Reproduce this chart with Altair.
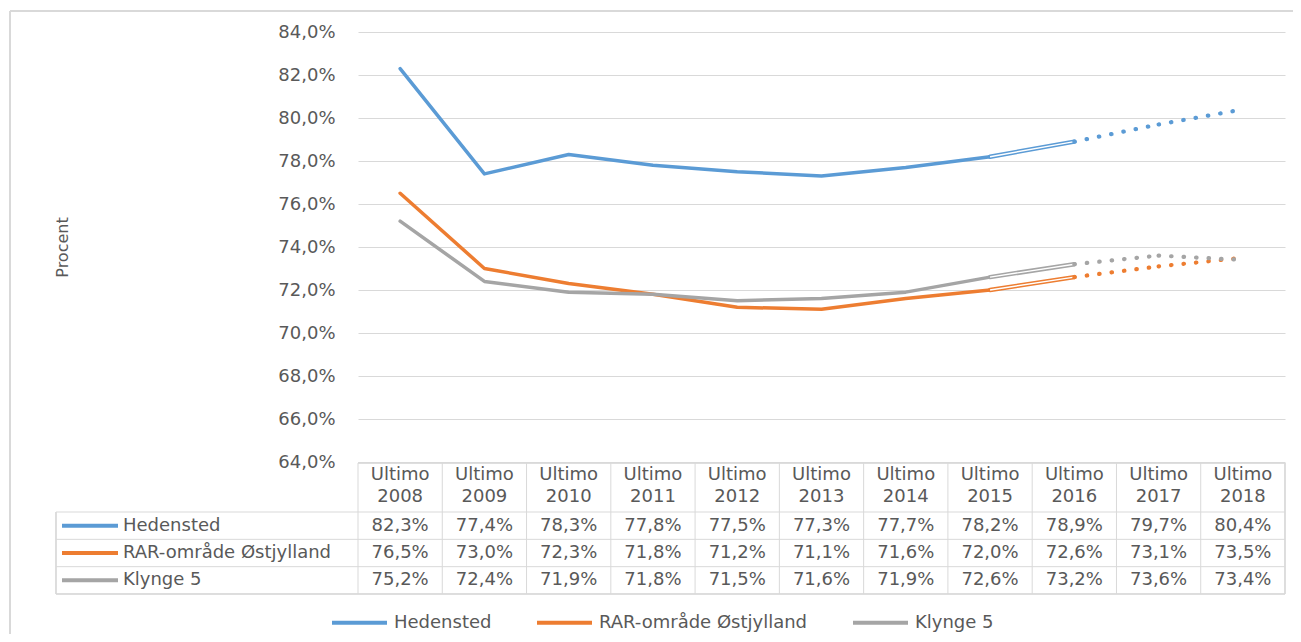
import altair as alt
import pandas as pd

# ---------------- data ----------------
years = ["2008", "2009", "2010", "2011", "2012", "2013", "2014", "2015", "2016", "2017", "2018"]
series = ["Hedensted", "RAR-område Østjylland", "Klynge 5"]
hedensted = [82.3, 77.4, 78.3, 77.8, 77.5, 77.3, 77.7, 78.2, 78.9, 79.7, 80.4]
rar = [76.5, 73.0, 72.3, 71.8, 71.2, 71.1, 71.6, 72.0, 72.6, 73.1, 73.5]
klynge = [75.2, 72.4, 71.9, 71.8, 71.5, 71.6, 71.9, 72.6, 73.2, 73.6, 73.4]
colors = ["#5B9BD5", "#ED7D31", "#A5A5A5"]
y_ticks = [64, 66, 68, 70, 72, 74, 76, 78, 80, 82, 84]

rows = []
for s, vals in zip(series, [hedensted, rar, klynge]):
    for i, (yr, v) in enumerate(zip(years, vals)):
        rows.append(dict(series=s, year=yr, idx=i, value=v,
                         label=f"{v:.1f}".replace(".", ",") + "%"))
df = pd.DataFrame(rows)
dotted = pd.concat([
    df[df.idx.isin([8, 9])].assign(seg="a"),
    df[df.idx.isin([9, 10])].assign(seg="b"),
])
ydf = pd.DataFrame({"year": years})
sdf = pd.DataFrame({"series": series})

FONT = "DejaVu Sans"
GREY = "#595959"
GRID = "#D9D9D9"

xscale = alt.Scale(type="band", domain=years, paddingInner=0, paddingOuter=0)
xenc = alt.X("year:O", scale=xscale, axis=None, bandPosition=0.5)
yscale = alt.Scale(domain=[64, 84], nice=False, zero=False)
yaxis = alt.Axis(
    values=y_ticks, grid=True, gridColor=GRID, gridWidth=1, domain=False, ticks=False,
    labelPadding=23, labelFont=FONT, labelFontSize=18, labelColor=GREY,
    labelExpr="replace(format(datum.value, '.1f'), '.', ',') + '%'",
    title="Procent", titleFont=FONT, titleFontSize=16, titleFontWeight="normal",
    titleColor=GREY, titleX=-296, titleY=215, titleAngle=270,
    titleBaseline="middle", titleAlign="center",
)
ynoax = alt.Y("value:Q", scale=yscale, axis=None)

color = alt.Color(
    "series:N",
    scale=alt.Scale(domain=series, range=colors),
    legend=alt.Legend(
        title=None, orient="none", legendX=-28, legendY=561, direction="horizontal",
        symbolType="stroke", symbolSize=3025, symbolStrokeWidth=4,
        labelFont=FONT, labelFontSize=18, labelColor=GREY, labelLimit=400,
        labelOffset=5, columnPadding=37, padding=0,
    ),
)

rowscale = alt.Scale(type="band", domain=series, range=[480, 562], paddingInner=0, paddingOuter=0)
yrow = alt.Y("series:N", scale=rowscale, axis=None, bandPosition=0.5)

# ---------------- frame & table borders ----------------
frame_top = alt.Chart(sdf).mark_rule(color=GRID, strokeWidth=2).encode(
    x=alt.value(-348), x2=alt.value(943), y=alt.value(-21))
frame_left = alt.Chart(sdf).mark_rule(color=GRID, strokeWidth=2).encode(
    x=alt.value(-348), y=alt.value(-21), y2=alt.value(640))

vlines = alt.Chart(ydf).mark_rule(color=GRID, strokeWidth=1).encode(
    x=alt.X("year:O", scale=xscale, axis=None, bandPosition=0),
    y=alt.value(431), y2=alt.value(562))
vright = alt.Chart(sdf).mark_rule(color=GRID, strokeWidth=1).encode(
    x=alt.value(927), y=alt.value(431), y2=alt.value(562))
vleft = alt.Chart(sdf).mark_rule(color=GRID, strokeWidth=1).encode(
    x=alt.value(-302), y=alt.value(480), y2=alt.value(562))
hlines = alt.Chart(sdf).mark_rule(color=GRID, strokeWidth=1).encode(
    y=alt.Y("series:N", scale=rowscale, axis=None, bandPosition=0),
    x=alt.value(-302), x2=alt.value(927))
hbottom = alt.Chart(sdf).mark_rule(color=GRID, strokeWidth=1).encode(
    y=alt.value(562), x=alt.value(-302), x2=alt.value(927))
htop = alt.Chart(sdf).mark_rule(color=GRID, strokeWidth=1).encode(
    y=alt.value(431), x=alt.value(0), x2=alt.value(927))

# ---------------- lines ----------------
solid = alt.Chart(df).transform_filter("datum.idx <= 7").mark_line(
    strokeWidth=3.5, strokeJoin="round", strokeCap="round").encode(
    x=xenc, y=alt.Y("value:Q", scale=yscale, axis=yaxis), color=color)
double_a = alt.Chart(df).transform_filter("datum.idx >= 7 && datum.idx <= 8").mark_line(
    strokeWidth=4.5, strokeCap="round").encode(x=xenc, y=ynoax, color=color)
double_b = alt.Chart(df).transform_filter("datum.idx >= 7 && datum.idx <= 8").mark_line(
    strokeWidth=1.4, color="white").encode(x=xenc, y=ynoax, detail="series:N")
dots = alt.Chart(dotted).mark_line(
    strokeWidth=4.2, strokeDash=[0.5, 12], strokeCap="round").encode(
    x=xenc, y=ynoax, color=color, detail="seg:N")

# ---------------- table text ----------------
txt = dict(font=FONT, fontSize=18, color=GREY, baseline="middle")
hdr1 = alt.Chart(ydf).mark_text(text="Ultimo", **txt).encode(x=xenc, y=alt.value(443))
hdr2 = alt.Chart(ydf).mark_text(**txt).encode(x=xenc, y=alt.value(465), text="year:N")
vals = alt.Chart(df).mark_text(**txt).encode(x=xenc, y=yrow, text="label:N")
rowlab = alt.Chart(sdf).mark_text(align="left", **txt).encode(
    x=alt.value(-235), y=yrow, text="series:N")
rowsw = alt.Chart(sdf).mark_rule(strokeWidth=4).encode(
    x=alt.value(-296), x2=alt.value(-240), y=yrow, color=color)

chart = alt.layer(
    frame_top, frame_left, vlines, vright, vleft, hlines, hbottom, htop,
    solid, double_a, double_b, dots,
    hdr1, hdr2, vals, rowlab, rowsw,
).resolve_scale(y="independent").properties(
    width=927, height=430,
    padding={"left": 350, "top": 24, "right": 8, "bottom": 172},
    autosize=alt.AutoSizeParams(type="none"),
    background="white",
).configure_view(stroke=None)

chart.save("out.html", embed_options={"renderer": "svg", "actions": False})
